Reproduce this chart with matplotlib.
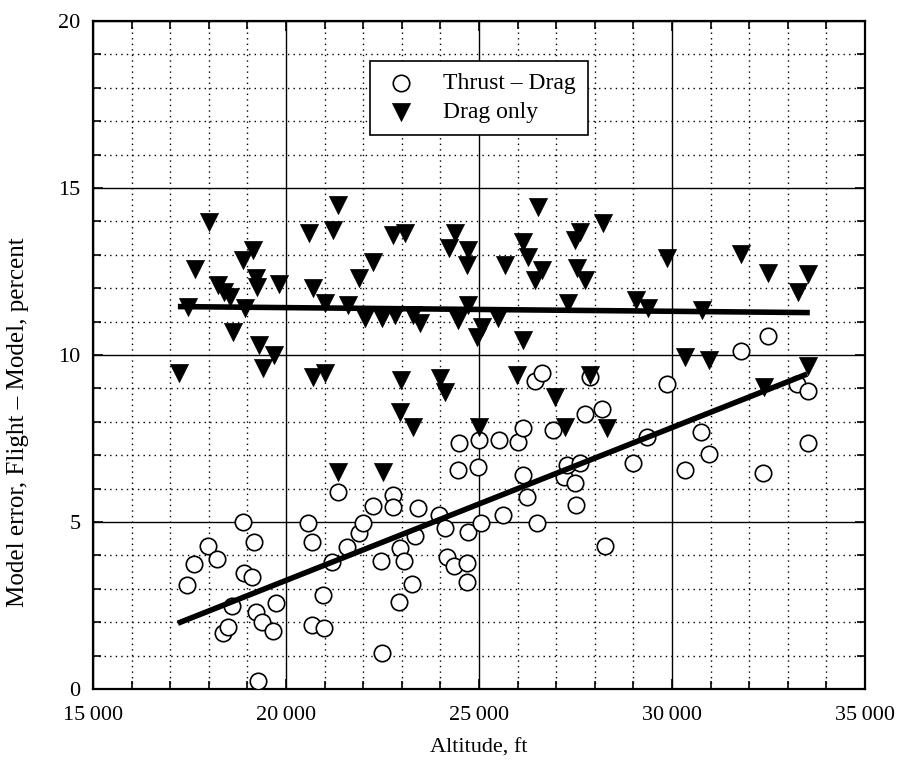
import matplotlib
matplotlib.use("Agg")
import matplotlib.pyplot as plt
from matplotlib.ticker import MultipleLocator, FuncFormatter

plt.rcParams['font.family'] = ['Liberation Serif', 'DejaVu Serif']

# Thrust - Drag (open circles)
td_alt = [17435, 17616, 17978, 18211, 18367, 18496, 18600, 18885, 18911, 19118,
          19170, 19222, 19274, 19377, 19662, 19740,
          20568, 20672, 20672, 20957, 20983, 21190, 21346, 21579, 21889, 21993,
          22252, 22459, 22485, 22770, 22770, 22925, 22951, 23055, 23262, 23340,
          23417, 23961, 24117, 24169, 24350, 24454, 24480, 24687, 24687, 24712,
          24971, 24997, 25049,
          25515, 25619, 26008, 26137, 26137, 26241, 26448, 26500, 26630, 26914,
          27199, 27277, 27484, 27510, 27613, 27743, 27873, 28183, 28261, 28986,
          29349, 29867,
          30337, 30750, 30958, 31788, 32357, 32487, 33234, 33523, 33523]
td_err = [3.11, 3.74, 4.28, 3.89, 1.68, 1.86, 2.48, 5.0, 3.47, 3.35,
          4.4, 2.31, 0.24, 2.0, 1.74, 2.57,
          4.97, 4.4, 1.92, 2.81, 1.83, 3.8, 5.9, 4.25, 4.67, 4.97,
          5.48, 3.83, 1.08, 5.81, 5.45, 2.6, 4.22, 3.83, 3.14, 4.58,
          5.42, 5.21, 4.82, 3.95, 3.68, 6.56, 7.37, 3.77, 3.2, 4.7,
          6.65, 7.46, 4.97,
          7.46, 5.21, 7.4, 7.81, 6.4, 5.75, 9.22, 4.97, 9.46, 7.75,
          6.35, 6.7, 6.17, 5.51, 6.77, 8.23, 9.34, 8.38, 4.28, 6.77,
          7.54, 9.13,
          6.56, 7.69, 7.04, 10.12, 6.47, 10.57, 9.13, 8.92, 7.37]

# Drag only (filled down triangles)
dr_alt = [17227, 17460, 17642, 18004, 18237, 18400, 18550, 18626, 18885, 18937,
          19144, 19222, 19248, 19300, 19403, 19688, 19820,
          20594, 20698, 20698, 21009, 21009, 21216, 21346, 21346, 21605, 21889,
          22045, 22252, 22485, 22511, 22770, 22822, 22951, 22977, 23080, 23288,
          23288, 23469, 23987, 24117, 24220, 24376, 24454, 24712, 24712, 24687,
          24946, 25000,
          25075, 25490, 25671, 25982, 26137, 26137, 26267, 26448, 26526, 26630,
          26967, 27225, 27302, 27484, 27536, 27613, 27743, 27873, 28209, 28313,
          29064, 29375, 29867,
          30337, 30777, 30958, 31788, 32383, 32487, 33264, 33523, 33523]
dr_err = [9.46, 11.44, 12.57, 13.98, 12.1, 11.9, 11.75, 10.69, 12.84, 11.4,
          13.14, 12.3, 12.04, 10.3, 9.61, 10.0, 12.13,
          13.65, 12.0, 9.34, 11.56, 9.46, 13.74, 14.49, 6.5, 11.5, 12.3,
          11.1, 12.78, 11.1, 6.5, 13.59, 11.2, 8.29, 9.25, 13.65, 11.2,
          7.84, 10.95, 9.31, 8.89, 13.2, 13.65, 11.05, 13.14, 11.5, 12.69,
          10.54, 7.84,
          10.84, 11.1, 12.69, 9.4, 13.38, 10.45, 12.93, 12.25, 14.43, 12.54,
          8.74, 7.84, 11.56, 13.44, 12.6, 13.68, 12.25, 9.4, 13.95, 7.81,
          11.65, 11.4, 12.9,
          9.94, 11.35, 9.85, 13.02, 9.04, 12.46, 11.89, 12.43, 9.67]

# Fit lines
td_fit_alt = [17200, 33500]
td_fit_err = [1.97, 9.43]
dr_fit_alt = [17200, 33570]
dr_fit_err = [11.45, 11.27]

fig = plt.figure(figsize=(8.99, 7.62), dpi=100)
ax = fig.add_axes([0.1034, 0.0958, 0.8588, 0.8766])

ax.set_xlim(15000, 35000)
ax.set_ylim(0, 20)
ax.xaxis.set_major_locator(MultipleLocator(5000))
ax.xaxis.set_minor_locator(MultipleLocator(1000))
ax.yaxis.set_major_locator(MultipleLocator(5))
ax.yaxis.set_minor_locator(MultipleLocator(1))
ax.xaxis.set_major_formatter(FuncFormatter(lambda v, p: f"{int(v):,}".replace(",", "\u2009")))

ax.grid(which='major', color='black', linewidth=1.0, linestyle='-')
ax.grid(which='minor', color='black', linewidth=1.0, linestyle=(0, (1, 3)))
ax.set_axisbelow(True)

ax.tick_params(which='both', direction='in', top=True, right=True, width=1.2)
ax.tick_params(which='major', length=7, labelsize=16)
ax.tick_params(axis='x', which='major', pad=12)
ax.tick_params(axis='y', which='major', pad=9)
ax.tick_params(which='minor', length=6)
for s in ax.spines.values():
    s.set_linewidth(1.6)

ax.scatter(td_alt, td_err, s=140, marker='o', facecolors='white', edgecolors='black',
           linewidths=1.2, zorder=3, label='Thrust \u2013 Drag')
ax.scatter(dr_alt, dr_err, s=170, marker='v', facecolors='black', edgecolors='black',
           linewidths=0.5, zorder=4, label='Drag only')
ax.plot(td_fit_alt, td_fit_err, color='black', linewidth=4, solid_capstyle='butt', zorder=5)
ax.plot(dr_fit_alt, dr_fit_err, color='black', linewidth=4, solid_capstyle='butt', zorder=5)

ax.set_xlabel('Altitude, ft', fontsize=16, labelpad=10)
ax.set_ylabel('Model error, Flight \u2013 Model, percent', fontsize=18)
ax.yaxis.set_label_coords(-0.083, 0.40)

leg = ax.legend(loc='upper center', bbox_to_anchor=(0.5, 0.94), fontsize=17,
                frameon=True, fancybox=False, edgecolor='black', framealpha=1,
                handletextpad=1.0, handlelength=1.6, labelspacing=0.3, borderpad=0.5,
                borderaxespad=0, scatterpoints=1)
leg.get_frame().set_linewidth(1.2)
leg.set_zorder(10)

fig.savefig('out.png', dpi=100)
